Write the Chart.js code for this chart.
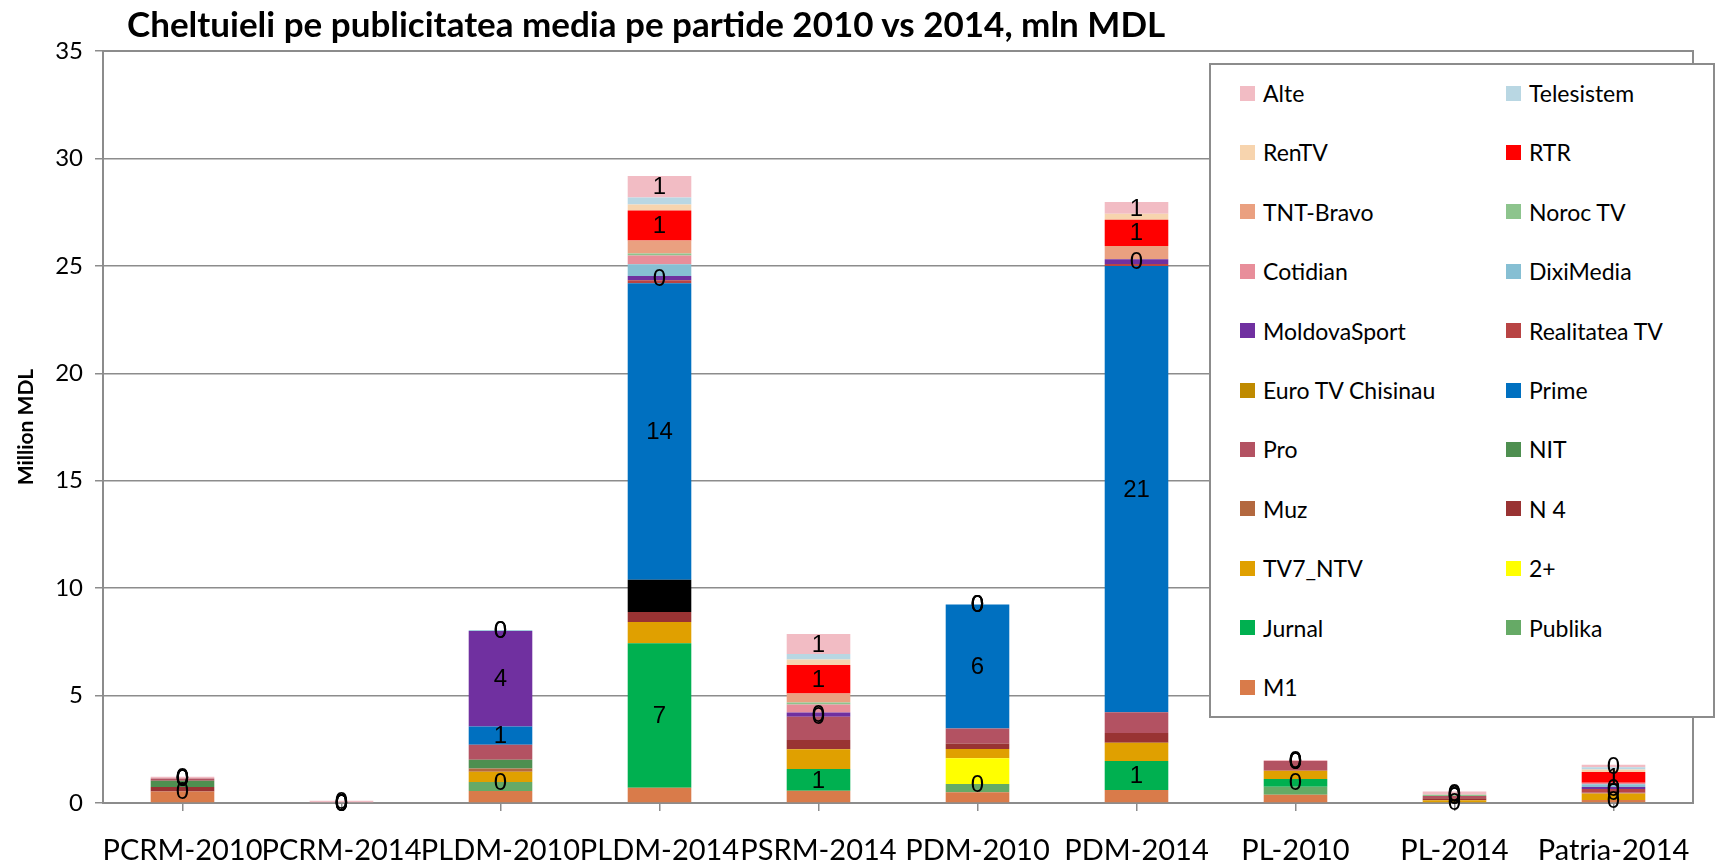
<!DOCTYPE html>
<html>
<head>
<meta charset="utf-8">
<title>Cheltuieli pe publicitatea media</title>
<script src="https://cdn.jsdelivr.net/npm/chart.js@4.4.1/dist/chart.umd.min.js"></script>
<style>
  html, body { margin: 0; padding: 0; background: #fff; }
  #wrap { position: relative; width: 1735px; height: 860px; }
  #title { position: absolute; left: 127px; top: 2px; font: bold 35px Lato, sans-serif; color: #000; white-space: nowrap; }
  #legend { position: absolute; left: 1209px; top: 63px; width: 506px; height: 655px; box-sizing: border-box;
            border: 2px solid #8c8c8c; background: #fff; }
  .item { position: absolute; height: 30px; display: flex; align-items: center; font: 23px Lato, sans-serif; color: #000; white-space: nowrap; }
  .sw { width: 15px; height: 15px; margin-right: 8px; flex: none; }
</style>
</head>
<body>
<div id="wrap">
  <canvas id="chart"></canvas>
  <div id="title">Cheltuieli pe publicitatea media pe partide 2010 vs 2014, mln MDL</div>
  <div id="legend"></div>
</div>
<script>
(function() {
  'use strict';

  var categories = ['PCRM-2010', 'PCRM-2014', 'PLDM-2010', 'PLDM-2014', 'PSRM-2014',
                    'PDM-2010', 'PDM-2014', 'PL-2010', 'PL-2014', 'Patria-2014'];

  // million MDL per channel, stack order bottom -> top
  var m1          = [0.54, 0,    0.56, 0.71, 0.57, 0.50, 0.60,  0.38, 0.03, 0.14];
  var publika     = [0,    0,    0.42, 0,    0,    0.38, 0,     0.38, 0,    0];
  var jurnal      = [0,    0,    0,    6.73, 1.01, 0,    1.35,  0.36, 0,    0];
  var doiPlus     = [0,    0,    0,    0,    0,    1.20, 0,     0,    0,    0];
  var tv7Ntv      = [0,    0,    0.47, 0.98, 0.92, 0.43, 0.86,  0.38, 0.10, 0.30];
  var n4          = [0.20, 0,    0,    0.47, 0.43, 0.26, 0.45,  0,    0.09, 0];
  var muz         = [0,    0,    0.16, 0,    0,    0,    0,     0,    0,    0];
  var nit         = [0.30, 0,    0.40, 0,    0,    0,    0,     0,    0,    0];
  var pro         = [0.10, 0,    0.70, 1.50, 1.08, 0.70, 0.96,  0.45, 0.10, 0.06];
  var prime       = [0,    0,    0.85, 13.8, 0,    5.77, 20.77, 0,    0,    0];
  var euroTv      = [0,    0,    0,    0,    0,    0,    0,     0,    0,    0];
  var realitatea  = [0,    0,    0,    0.14, 0,    0,    0.10,  0,    0,    0.15];
  var moldovaSport= [0,    0,    4.45, 0.20, 0.20, 0,    0.22,  0,    0,    0.10];
  var diximedia   = [0,    0,    0.03, 0.55, 0,    0,    0,     0,    0,    0.12];
  var cotidian    = [0,    0,    0,    0.40, 0.37, 0,    0,     0,    0,    0.07];
  var norocTv     = [0,    0,    0,    0.10, 0.10, 0,    0,     0,    0.06, 0];
  var tntBravo    = [0,    0,    0,    0.60, 0.42, 0,    0.62,  0,    0,    0];
  var rtr         = [0,    0,    0,    1.40, 1.32, 0,    1.22,  0,    0,    0.50];
  var renTv       = [0,    0,    0,    0.27, 0.26, 0,    0.27,  0,    0,    0.12];
  var telesistem  = [0,    0,    0,    0.33, 0.25, 0,    0,     0,    0,    0.10];
  var alte        = [0.08, 0.10, 0,    1.00, 0.93, 0,    0.55,  0.05, 0.16, 0.12];

  var yTicks = [0, 5, 10, 15, 20, 25, 30, 35];

  var COLORS = {
    m1: '#D97B4A', publika: '#66AA66', jurnal: '#00B050', doiPlus: '#FFFF00',
    tv7Ntv: '#E0A000', n4: '#993333', muz: '#B3683F', nit: '#4E8F50',
    pro: '#B35262', prime: '#0070C0', euroTv: '#BF8A00', realitatea: '#B84444',
    moldovaSport: '#7030A0', diximedia: '#86BFD3', cotidian: '#E88E9A',
    norocTv: '#8DC48D', tntBravo: '#EAA080', rtr: '#FF0000', renTv: '#F7D4AE',
    telesistem: '#B9D7E3', alte: '#F2BCC4',
    grid: '#8c8c8c', text: '#000'
  };

  // PLDM-2014 "Pro" point was recoloured black in the original
  var proColors = categories.map(function(c) { return c === 'PLDM-2014' ? '#000000' : COLORS.pro; });

  var series = [
    { label: 'M1', data: m1, color: COLORS.m1 },
    { label: 'Publika', data: publika, color: COLORS.publika },
    { label: 'Jurnal', data: jurnal, color: COLORS.jurnal, showLabels: true },
    { label: '2+', data: doiPlus, color: COLORS.doiPlus },
    { label: 'TV7_NTV', data: tv7Ntv, color: COLORS.tv7Ntv },
    { label: 'N 4', data: n4, color: COLORS.n4 },
    { label: 'Muz', data: muz, color: COLORS.muz },
    { label: 'NIT', data: nit, color: COLORS.nit },
    { label: 'Pro', data: pro, color: COLORS.pro, fill: proColors },
    { label: 'Prime', data: prime, color: COLORS.prime, showLabels: true },
    { label: 'Euro TV Chisinau', data: euroTv, color: COLORS.euroTv },
    { label: 'Realitatea TV', data: realitatea, color: COLORS.realitatea },
    { label: 'MoldovaSport', data: moldovaSport, color: COLORS.moldovaSport, showLabels: true },
    { label: 'DixiMedia', data: diximedia, color: COLORS.diximedia },
    { label: 'Cotidian', data: cotidian, color: COLORS.cotidian },
    { label: 'Noroc TV', data: norocTv, color: COLORS.norocTv },
    { label: 'TNT-Bravo', data: tntBravo, color: COLORS.tntBravo },
    { label: 'RTR', data: rtr, color: COLORS.rtr, showLabels: true },
    { label: 'RenTV', data: renTv, color: COLORS.renTv },
    { label: 'Telesistem', data: telesistem, color: COLORS.telesistem },
    { label: 'Alte', data: alte, color: COLORS.alte, showLabels: true }
  ];

  var datasets = series.map(function(s) {
    return {
      label: s.label,
      data: s.data,
      backgroundColor: s.fill || s.color,
      legendColor: s.color,
      showLabels: !!s.showLabels,
      borderWidth: 0,
      barPercentage: 0.8,
      categoryPercentage: 0.5
    };
  });

  var plotBorder = {
    id: 'plotBorder',
    beforeDatasetsDraw: function(chart) {
      var a = chart.chartArea, ctx = chart.ctx;
      ctx.save();
      ctx.strokeStyle = COLORS.grid;
      ctx.lineWidth = 2;
      ctx.strokeRect(a.left, a.top, a.right - a.left, a.bottom - a.top);
      ctx.restore();
    }
  };

  var barLabels = {
    id: 'barLabels',
    afterDatasetsDraw: function(chart) {
      var ctx = chart.ctx;
      ctx.save();
      ctx.font = '24px "Liberation Sans", Arial, sans-serif';
      ctx.fillStyle = COLORS.text;
      ctx.textAlign = 'center';
      ctx.textBaseline = 'middle';
      chart.data.datasets.forEach(function(ds, i) {
        if (!ds.showLabels) return;
        chart.getDatasetMeta(i).data.forEach(function(el, j) {
          var v = ds.data[j];
          if (v == null) return;
          ctx.fillText(String(Math.round(v)), el.x, (el.y + el.base) / 2 + 1);
        });
      });
      ctx.restore();
    }
  };

  var chart = new Chart(document.getElementById('chart'), {
    type: 'bar',
    data: { labels: categories, datasets: datasets },
    plugins: [plotBorder, barLabels],
    options: {
      responsive: true,
      maintainAspectRatio: false,
      animation: false,
      layout: { padding: { top: 51, right: 42, bottom: 0, left: 0 } },
      plugins: {
        legend: { display: false },
        tooltip: { enabled: false },
        title: { display: false }
      },
      scales: {
        x: {
          stacked: true,
          grid: { display: true, drawOnChartArea: false, offset: false, tickLength: 8, color: COLORS.grid, lineWidth: 1.5 },
          border: { color: COLORS.grid, width: 2 },
          ticks: { color: COLORS.text, font: { family: 'Lato', size: 29 }, maxRotation: 0, autoSkip: false, padding: 22 },
          afterFit: function(scale) { scale.height = 57; }
        },
        y: {
          stacked: true,
          min: 0,
          max: 35,
          afterBuildTicks: function(scale) {
            scale.ticks = yTicks.map(function(v) { return { value: v }; });
          },
          grid: { color: COLORS.grid, lineWidth: 1.5, tickLength: 8 },
          border: { color: COLORS.grid, width: 2 },
          ticks: { color: COLORS.text, font: { family: 'Lato', size: 24 }, padding: 12 },
          title: { display: true, text: 'Million MDL', color: COLORS.text,
                   font: { family: 'Lato', size: 21, weight: 'bold' }, padding: { top: 14, bottom: 0 } },
          afterFit: function(scale) { scale.width = 103; }
        }
      }
    }
  });

  // legend box, reversed like the original, two columns
  var legend = document.getElementById('legend');
  chart.data.datasets.slice().reverse().forEach(function(ds, i) {
    var item = document.createElement('div');
    item.className = 'item';
    item.style.left = (i % 2 === 0 ? 29 : 295) + 'px';
    item.style.top = (13 + Math.floor(i / 2) * 59.4) + 'px';
    var sw = document.createElement('span');
    sw.className = 'sw';
    sw.style.background = ds.legendColor;
    var txt = document.createElement('span');
    txt.textContent = ds.label;
    item.appendChild(sw);
    item.appendChild(txt);
    legend.appendChild(item);
  });
})();
</script>
</body>
</html>
